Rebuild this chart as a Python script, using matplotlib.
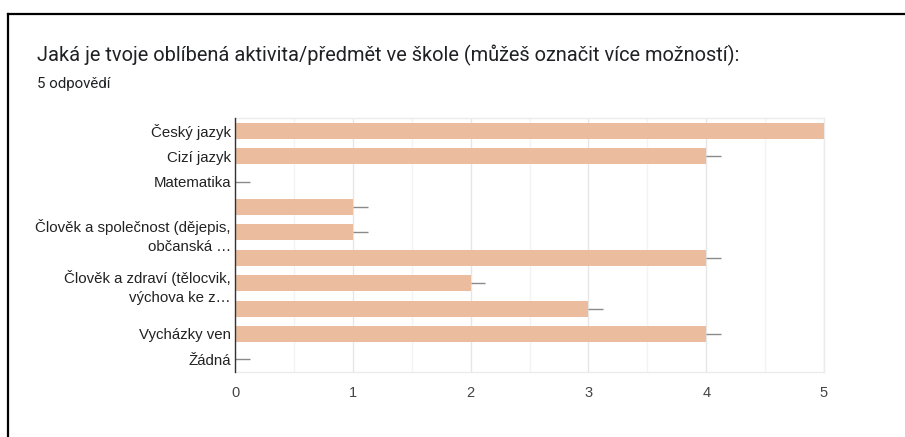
import matplotlib.pyplot as plt
from matplotlib.lines import Line2D

# data
categories = [
    "Český jazyk",
    "Cizí jazyk",
    "Matematika",
    "",
    "Člověk a společnost (dějepis,\nobčanská …",
    "",
    "Člověk a zdraví (tělocvik,\nvýchova ke z…",
    "",
    "Vycházky ven",
    "Žádná",
]
counts = [5, 4, 0, 1, 1, 4, 2, 3, 4, 0]
x_ticks = [0, 1, 2, 3, 4, 5]

title = "Jaká je tvoje oblíbená aktivita/předmět ve škole (můžeš označit více možností):"
subtitle = "5 odpovědí"

bar_color = "#ecbc9f"

fig = plt.figure(figsize=(9.05, 4.37), dpi=100)
ax = fig.add_axes([0.2597, 0.1487, 0.6508, 0.5812])

ypos = list(range(len(categories)))
ax.barh(ypos, counts, height=0.63, color=bar_color, zorder=3)

# small whiskers to the right of each bar (as in the Google Forms chart)
for y, v in zip(ypos, counts):
    ax.plot([v, v + 0.125], [y, y], color="#8a8a8a", lw=1.0, zorder=4,
            solid_capstyle="butt")

ax.set_xlim(0, 5)
ax.set_ylim(len(categories) - 0.5, -0.5)

ax.set_xticks(x_ticks)
ax.set_xticks([0.5, 1.5, 2.5, 3.5, 4.5], minor=True)
ax.grid(axis="x", which="major", color="#e6e6e6", lw=1.0, zorder=0)
ax.grid(axis="x", which="minor", color="#f3f3f3", lw=1.0, zorder=0)

ax.set_yticks(ypos)
ax.set_yticklabels(categories, fontsize=10.8, family="Liberation Sans",
                   color="#222222", ha="right", linespacing=1.45)
ax.tick_params(axis="y", length=0, pad=3)
ax.tick_params(axis="x", which="both", length=0, pad=10, labelsize=10.5,
               labelcolor="#444444")
for lab in ax.get_xticklabels():
    lab.set_family("Liberation Sans")

for side in ["top", "right", "bottom"]:
    ax.spines[side].set_color("#ebebeb")
    ax.spines[side].set_linewidth(1.0)
ax.spines["left"].set_color("#333333")
ax.spines["left"].set_linewidth(1.0)
ax.spines["left"].set_zorder(5)

# title and subtitle
fig.text(37 / 905, 1 - 55 / 437, title, fontsize=14.4, family="Roboto",
         color="#202124", va="center", ha="left")
fig.text(37 / 905, 1 - 84 / 437, subtitle, fontsize=10.8, family="Roboto",
         color="#202124", va="center", ha="left")

# black frame (top and left edges)
fig.add_artist(Line2D([7.5 / 905, 1], [1 - 13.5 / 437, 1 - 13.5 / 437],
                      color="black", lw=1.6, transform=fig.transFigure))
fig.add_artist(Line2D([7.5 / 905, 7.5 / 905], [0, 1 - 13.5 / 437],
                      color="black", lw=1.6, transform=fig.transFigure))

fig.savefig("out.png", dpi=100, facecolor="white")
plt.close(fig)
